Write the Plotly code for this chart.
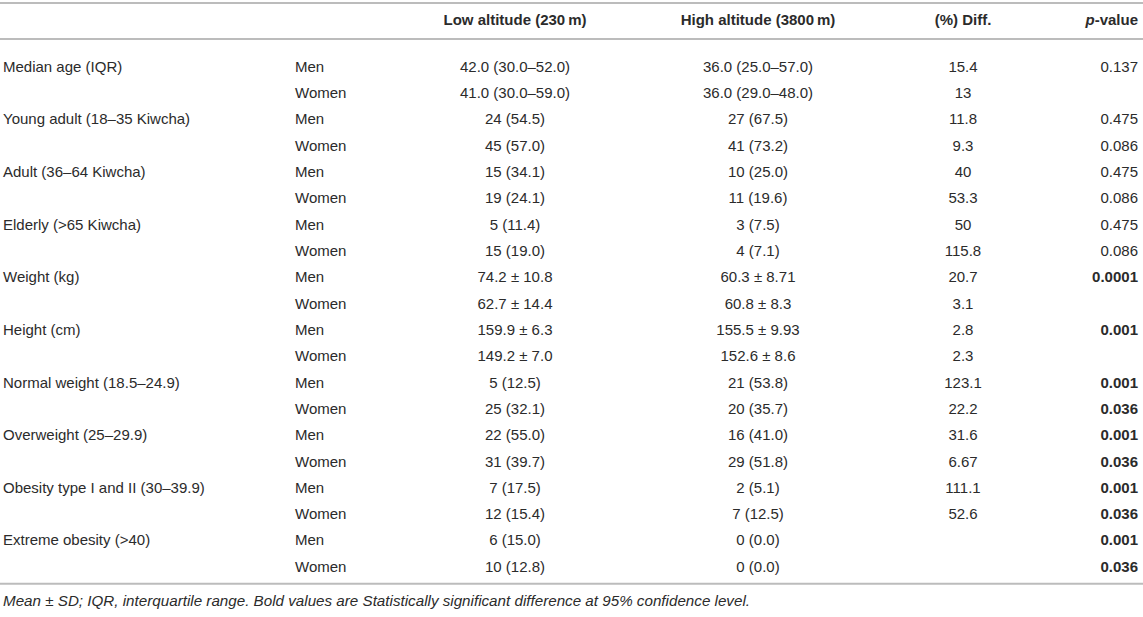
import plotly.graph_objects as go

# table content
variables = ["Median age (IQR)", "Young adult (18–35 Kiwcha)", "Adult (36–64 Kiwcha)",
             "Elderly (>65 Kiwcha)", "Weight (kg)", "Height (cm)",
             "Normal weight (18.5–24.9)", "Overweight (25–29.9)",
             "Obesity type I and II (30–39.9)", "Extreme obesity (>40)"]
sexes = ["Men", "Women"]

low_alt = ["42.0 (30.0–52.0)", "41.0 (30.0–59.0)", "24 (54.5)", "45 (57.0)",
           "15 (34.1)", "19 (24.1)", "5 (11.4)", "15 (19.0)",
           "74.2 ± 10.8", "62.7 ± 14.4", "159.9 ± 6.3", "149.2 ± 7.0",
           "5 (12.5)", "25 (32.1)", "22 (55.0)", "31 (39.7)",
           "7 (17.5)", "12 (15.4)", "6 (15.0)", "10 (12.8)"]
high_alt = ["36.0 (25.0–57.0)", "36.0 (29.0–48.0)", "27 (67.5)", "41 (73.2)",
            "10 (25.0)", "11 (19.6)", "3 (7.5)", "4 (7.1)",
            "60.3 ± 8.71", "60.8 ± 8.3", "155.5 ± 9.93", "152.6 ± 8.6",
            "21 (53.8)", "20 (35.7)", "16 (41.0)", "29 (51.8)",
            "2 (5.1)", "7 (12.5)", "0 (0.0)", "0 (0.0)"]
pct_diff = ["15.4", "13", "11.8", "9.3", "40", "53.3", "50", "115.8",
            "20.7", "3.1", "2.8", "2.3", "123.1", "22.2", "31.6", "6.67",
            "111.1", "52.6", "", ""]
p_values = ["0.137", "", "0.475", "0.086", "0.475", "0.086", "0.475", "0.086",
            "0.0001", "", "0.001", "", "0.001", "0.036", "0.001", "0.036",
            "0.001", "0.036", "0.001", "0.036"]

headers = ["Low altitude (230\u2009m)", "High altitude (3800\u2009m)", "(%) Diff.", "<i>p</i>-value"]
footnote = ("<i>Mean ± SD; IQR, interquartile range. Bold values are Statistically "
            "significant difference at 95% confidence level.</i>")

n_rows = len(low_alt)
rows = list(range(n_rows))
var_col = [variables[i // 2] if i % 2 == 0 else "" for i in rows]
sex_col = [sexes[i % 2] for i in rows]
# bold = significant at 95%
p_col = ["<b>%s</b>" % p if p and float(p) < 0.05 else p for p in p_values]

FONT = "Liberation Sans, Arial, sans-serif"
TXT = "#2b2b2b"
SIZE = 15

# column anchors (x in pixels) and vertical layout (y in row units)
x_var, x_sex, x_low, x_high, x_diff, x_p = 3, 295, 515, 758, 963, 1138
y_header, y_top, y_rule, y_bottom, y_note = -1.79, -2.47, -1.1, 19.6, 20.29

fig = go.Figure()


def add_col(x, y, text, pos, size=SIZE):
    fig.add_trace(go.Scatter(
        x=[x] * len(y), y=y, text=text, mode="text", textposition=pos,
        textfont=dict(family=FONT, size=size, color=TXT),
        hoverinfo="skip", showlegend=False))


add_col(x_var, rows, var_col, "middle right")
add_col(x_sex, rows, sex_col, "middle right")
add_col(x_low, rows, low_alt, "middle center")
add_col(x_high, rows, high_alt, "middle center")
add_col(x_diff, rows, pct_diff, "middle center")
add_col(x_p, rows, p_col, "middle left")

# header row
for x, h, pos in zip([x_low, x_high, x_diff, x_p], headers,
                     ["middle center", "middle center", "middle center", "middle left"]):
    add_col(x, [y_header], ["<b>%s</b>" % h], pos)

add_col(x_var, [y_note], [footnote], "middle right", size=15.2)

for y in [y_top, y_rule, y_bottom]:
    fig.add_shape(type="line", xref="paper", x0=0, x1=1, y0=y, y1=y,
                  line=dict(color="#bcbcbc", width=2))

fig.update_layout(
    width=1143, height=617, autosize=False,
    margin=dict(l=0, r=0, t=0, b=0),
    paper_bgcolor="white", plot_bgcolor="white",
    xaxis=dict(range=[0, 1143], visible=False, fixedrange=True),
    yaxis=dict(range=[20.86, -2.584], visible=False, fixedrange=True),
)

# drop the default page margin so the table sits flush at the top-left
fig.write_html("out.html", config={"displayModeBar": False},
               post_script="document.body.style.margin='0';")
